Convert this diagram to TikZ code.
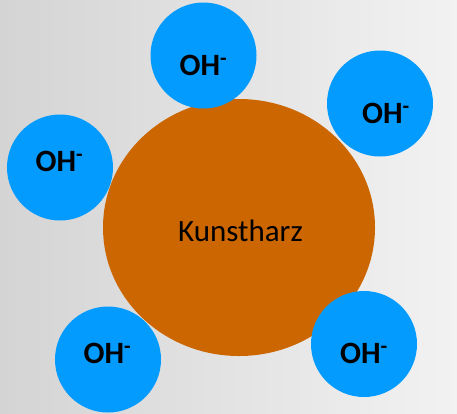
\documentclass[tikz,border=0pt]{standalone}
\usepackage{fontspec}
\setmainfont{Carlito}
\usetikzlibrary{shapes.geometric}
\definecolor{ionblue}{RGB}{4,155,255}
\definecolor{harzorange}{RGB}{204,102,0}
\definecolor{bgleft}{RGB}{212,212,212}
\definecolor{bgright}{RGB}{242,242,242}
\tikzset{
    ion/.style={circle, fill=ionblue, inner sep=0pt, minimum size=106pt},
    iontext/.style={anchor=base, inner sep=0pt, font=\fontsize{31}{31}\selectfont\bfseries}
}
\begin{document}
\begin{tikzpicture}[x=1pt, y=-1pt]
        \fill[left color=bgleft, right color=bgright] (0,0) rectangle (457,413);
        \useasboundingbox (0,0) rectangle (457,413);

        \node[ellipse, fill=harzorange, inner sep=0pt, minimum width=272pt, minimum height=257pt] (harz) at (239,227.5) {};
        \node[anchor=base, inner sep=0pt, font=\fontsize{31}{31}\selectfont] (harztext) at (240.5,241) {Kunstharz};

        \begin{scope}[every node/.style={ion}]
            \node (oh1) at (203.5,55.5) {};
            \node (oh2) at (380,103.5) {};
            \node (oh3) at (60,167.5) {};
            \node (oh4) at (108,359.5) {};
            \node (oh5) at (364,344) {};
        \end{scope}

        \begin{scope}[every node/.style={iontext}]
            \node (t1) at (203.5,75) {OH\textsuperscript{-}};
            \node (t2) at (386,123) {OH\textsuperscript{-}};
            \node (t3) at (59.5,171) {OH\textsuperscript{-}};
            \node (t4) at (107.5,363) {OH\textsuperscript{-}};
            \node (t5) at (364,363) {OH\textsuperscript{-}};
        \end{scope}
    \end{tikzpicture}
\end{document}
